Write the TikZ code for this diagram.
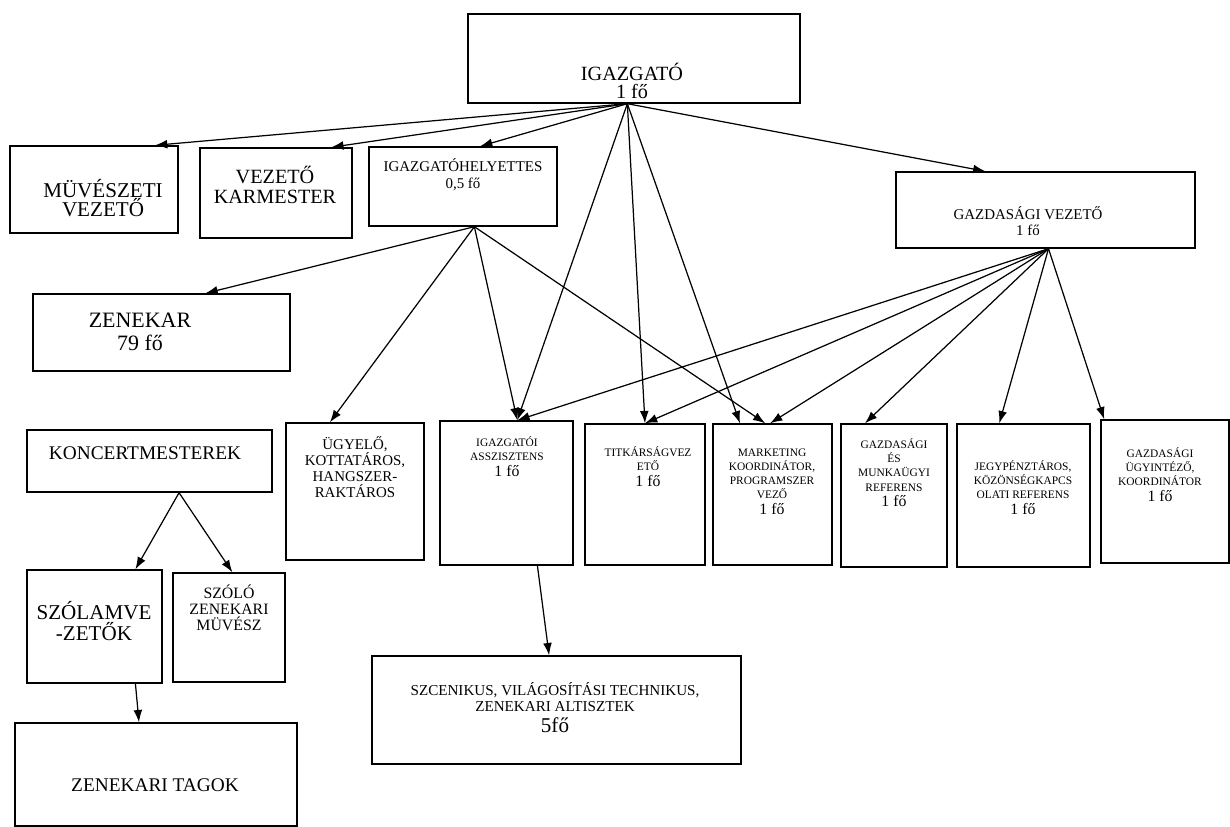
\documentclass[tikz,border=0pt]{standalone}
\usepackage{fontspec}
\setmainfont{Liberation Serif}
\usetikzlibrary{calc, arrows.meta}
\tikzset{>={Latex[length=7pt,width=5pt]}}
\tikzset{
  doboz/.style={draw, line width=0.8pt},
  meret/.style 2 args={minimum width=#1*0.02cm, minimum height=#2*0.02cm, inner sep=0pt},
  felirat/.style={align=center, inner sep=0pt},
  nyil/.style={->, line width=0.7pt}
}

\begin{document}
\begin{tikzpicture}[x=0.02cm, y=-0.02cm]
\useasboundingbox (0,0) rectangle (1230,827);
% dobozok
\node[doboz, meret={332}{89}] (igazgato) at (634,58.5) {};
\node[doboz, meret={168}{87}] (muveszeti) at (94,189.5) {};
\node[doboz, meret={152}{90}] (karmester) at (276,193) {};
\node[doboz, meret={188}{79}] (helyettes) at (463,186.5) {};
\node[doboz, meret={299}{76}] (gazdvez) at (1045.5,210) {};
\node[doboz, meret={257}{77}] (zenekar) at (161.5,332.5) {};
\node[doboz, meret={245}{62}] (koncert) at (149.5,461) {};
\node[doboz, meret={135}{113}] (szolam) at (94.5,626.5) {};
\node[doboz, meret={112}{109}] (szolo) at (229,627.5) {};
\node[doboz, meret={282}{103}] (tagok) at (156,774.5) {};
\node[doboz, meret={138}{137}] (ugyelo) at (355,491.5) {};
\node[doboz, meret={133}{144}] (asszisztens) at (506.5,493) {};
\node[doboz, meret={120}{141}] (titkar) at (645,494.5) {};
\node[doboz, meret={119}{141}] (marketing) at (772.5,494.5) {};
\node[doboz, meret={106}{143}] (gazdmunka) at (894,495.5) {};
\node[doboz, meret={133}{143}] (jegy) at (1023.5,495.5) {};
\node[doboz, meret={128}{143}] (ugyintezo) at (1165,491.5) {};
\node[doboz, meret={369}{108}] (szcenikus) at (556.5,710) {};

% feliratok
\node[felirat, font=\fontsize{11.5}{10}\selectfont] (igazgato-t) at (632,81) {IGAZGATÓ\\1 fő};
\node[felirat, font=\fontsize{12}{11}\selectfont] (muveszeti-t) at (103,198) {MÜVÉSZETI\\VEZETŐ};
\node[felirat, font=\fontsize{11.5}{11.5}\selectfont] (karmester-t) at (275,185) {VEZETŐ\\KARMESTER};
\node[felirat, font=\fontsize{8.5}{9.6}\selectfont] (helyettes-t) at (463,175) {IGAZGATÓHELYETTES\\0,5 fő};
\node[felirat, font=\fontsize{8.5}{9}\selectfont] (gazdvez-t) at (1028,221) {GAZDASÁGI VEZETŐ\\1 fő};
\node[felirat, font=\fontsize{12.5}{13}\selectfont] (zenekar-t) at (140,332) {ZENEKAR\\79 fő};
\node[felirat, font=\fontsize{11}{12}\selectfont] (koncert-t) at (145,453) {KONCERTMESTEREK};
\node[felirat, font=\fontsize{12}{12}\selectfont] (szolam-t) at (94,621) {SZÓLAMVE\\-ZETŐK};
\node[felirat, font=\fontsize{9}{9}\selectfont] (szolo-t) at (229,608) {SZÓLÓ\\ZENEKARI\\MÜVÉSZ};
\node[felirat, font=\fontsize{11}{12}\selectfont] (tagok-t) at (155,785) {ZENEKARI TAGOK};
\node[felirat, font=\fontsize{8.5}{9}\selectfont] (ugyelo-t) at (355,467) {ÜGYELŐ,\\KOTTATÁROS,\\HANGSZER-\\RAKTÁROS};
\node[felirat, font=\fontsize{6.5}{8}\selectfont] (asszisztens-t) at (507,457) {IGAZGATÓI\\ASSZISZTENS\\[1pt]{\fontsize{9}{9}\selectfont 1 fő}};
\node[felirat, font=\fontsize{6.5}{8}\selectfont] (titkar-t) at (648,467) {TITKÁRSÁGVEZ\\ETŐ\\[1pt]{\fontsize{9}{9}\selectfont 1 fő}};
\node[felirat, font=\fontsize{6.5}{8}\selectfont] (marketing-t) at (772,482) {MARKETING\\KOORDINÁTOR,\\PROGRAMSZER\\VEZŐ\\[1pt]{\fontsize{9}{9}\selectfont 1 fő}};
\node[felirat, font=\fontsize{6.5}{8}\selectfont] (gazdmunka-t) at (894,473) {GAZDASÁGI\\ÉS\\MUNKAÜGYI\\REFERENS\\[1pt]{\fontsize{9}{9}\selectfont 1 fő}};
\node[felirat, font=\fontsize{6.5}{8}\selectfont] (jegy-t) at (1023,488) {JEGYPÉNZTÁROS,\\KÖZÖNSÉGKAPCS\\OLATI REFERENS\\[1pt]{\fontsize{9}{9}\selectfont 1 fő}};
\node[felirat, font=\fontsize{6.5}{8}\selectfont] (ugyintezo-t) at (1160,475) {GAZDASÁGI\\ÜGYINTÉZŐ,\\KOORDINÁTOR\\[1pt]{\fontsize{9}{9}\selectfont 1 fő}};
\node[felirat, font=\fontsize{8.6}{9}\selectfont] (szcenikus-t) at (555,708) {SZCENIKUS, VILÁGOSÍTÁSI TECHNIKUS,\\ZENEKARI ALTISZTEK\\[3pt]{\fontsize{12}{12}\selectfont 5fő}};

% kimenetek
\coordinate (ig-ki) at ($(igazgato.south west)!.48!(igazgato.south east)$);
\coordinate (he-ki) at ($(helyettes.south west)!.56!(helyettes.south east)$);
\coordinate (gv-ki) at ($(gazdvez.south west)!.51!(gazdvez.south east)$);
\coordinate (ko-ki) at ($(koncert.south west)!.62!(koncert.south east)$);
\coordinate (sz-ki) at ($(szolam.south west)!.8!(szolam.south east)$);
\coordinate (as-ki) at ($(asszisztens.south west)!.73!(asszisztens.south east)$);

% nyilak
\draw[nyil] (ig-ki) -- ($(muveszeti.north west)!.86!(muveszeti.north east)$);
\draw[nyil] (ig-ki) -- ($(karmester.north west)!.86!(karmester.north east)$);
\draw[nyil] (ig-ki) -- ($(helyettes.north west)!.59!(helyettes.north east)$);
\draw[nyil] (ig-ki) -- ($(gazdvez.north west)!.3!(gazdvez.north east)$);
\draw[nyil] (ig-ki) -- ($(asszisztens.north west)!.58!(asszisztens.north east)$);
\draw[nyil] (ig-ki) -- ($(titkar.north west)!.5!(titkar.north east)$);
\draw[nyil] (ig-ki) -- ($(marketing.north west)!.23!(marketing.north east)$);

\draw[nyil] (he-ki) -- ($(zenekar.north west)!.67!(zenekar.north east)$);
\draw[nyil] (he-ki) -- ($(ugyelo.north west)!.32!(ugyelo.north east)$);
\draw[nyil] (he-ki) -- ($(asszisztens.north west)!.58!(asszisztens.north east)$);
\draw[nyil] (he-ki) -- ($(marketing.north west)!.44!(marketing.north east)$);

\draw[nyil] (gv-ki) -- ($(asszisztens.north west)!.58!(asszisztens.north east)$);
\draw[nyil] (gv-ki) -- ($(titkar.north west)!.5!(titkar.north east)$);
\draw[nyil] (gv-ki) -- ($(marketing.north west)!.48!(marketing.north east)$);
\draw[nyil] (gv-ki) -- ($(gazdmunka.north west)!.23!(gazdmunka.north east)$);
\draw[nyil] (gv-ki) -- ($(jegy.north west)!.32!(jegy.north east)$);
\draw[nyil] (gv-ki) -- ($(ugyintezo.north west)!.03!(ugyintezo.north east)$);

\draw[nyil] (ko-ki) -- ($(szolam.north west)!.8!(szolam.north east)$);
\draw[nyil] (ko-ki) -- ($(szolo.north west)!.53!(szolo.north east)$);
\draw[nyil] (sz-ki) -- ($(tagok.north west)!.44!(tagok.north east)$);
\draw[nyil] (as-ki) -- ($(szcenikus.north west)!.48!(szcenikus.north east)$);
\end{tikzpicture}
\end{document}
